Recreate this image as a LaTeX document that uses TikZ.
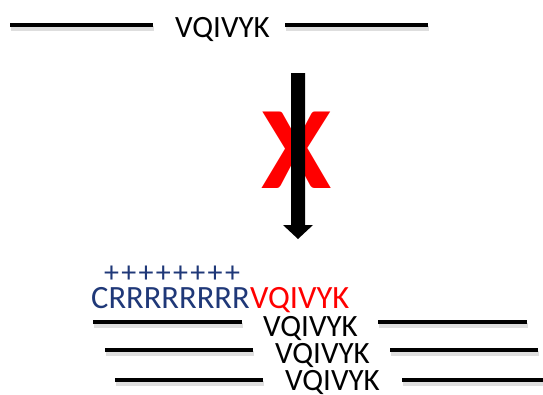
\documentclass[tikz,border=0pt]{standalone}
\usepackage{fontspec}
\setmainfont{Carlito}
\definecolor{navy}{RGB}{31,56,120}
\definecolor{pure red}{RGB}{255,0,0}
\tikzset{
  seg/.style={line width=4.5pt, black},
  segshadow/.style={line width=5pt, black!13},
  lbl/.style={inner sep=0pt, anchor=base west, font=\fontsize{31}{31}\selectfont},
}
\newcommand{\strand}[5]{%
  % #1 y, #2 left start, #3 left end, #4 right start, #5 right end
  \draw[segshadow] (#2+1,#1+3) -- (#3+1,#1+3);
  \draw[segshadow] (#4+1,#1+3) -- (#5+1,#1+3);
  \draw[seg] (#2,#1) -- (#3,#1);
  \draw[seg] (#4,#1) -- (#5,#1);
}
\begin{document}
\begin{tikzpicture}[x=1pt,y=-1pt]
\useasboundingbox (0,0) rectangle (543,394);
% top strand
\strand{25}{10}{153}{285}{428}
\node[lbl] (top) at (175,37) {VQIVYK};
% red X
\node[inner sep=0pt, text=pure red, xscale=1.08, font=\fontsize{118}{118}\bfseries\selectfont] (cross) at (297,150) {X};
% arrow
\fill[black] (291,73) -- (305,73) -- (305,225) -- (313,225) -- (298,239) -- (283,225) -- (291,225) -- cycle;
\coordinate (arrowtip) at (298,239);
% product
\node[lbl, text=navy, font=\fontsize{30}{30}\selectfont\addfontfeature{LetterSpace=7}] (plus) at (104,282) {++++++++};
\node[lbl, text=navy, font=\fontsize{32.5}{32.5}\selectfont] (crr) at (91,308) {CRRRRRRRR};
\node[lbl, text=pure red, anchor=base west, font=\fontsize{32.5}{32.5}\selectfont] (red) at (crr.base east) {VQIVYK};
% strands
\strand{322}{93}{242}{378}{527}
\node[lbl] (r1) at (263,336) {VQIVYK};
\strand{350}{105}{253}{390}{538}
\node[lbl] (r2) at (275,363) {VQIVYK};
\strand{380}{115}{263}{402}{548}
\node[lbl] (r3) at (285,390) {VQIVYK};
\end{tikzpicture}
\end{document}
